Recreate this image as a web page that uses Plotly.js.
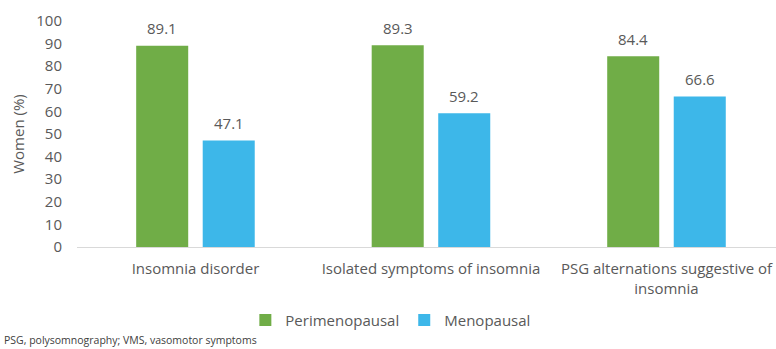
<!DOCTYPE html>
<html>
<head>
<meta charset="utf-8">
<script src="https://cdn.plot.ly/plotly-3.0.1.min.js"></script>
<style>html,body{margin:0;padding:0;background:#fff;}#chart{width:776px;height:349px;}</style>
</head>
<body>
<div id="chart"></div>
<script>
const categories = ["Insomnia disorder", "Isolated symptoms of insomnia", "PSG alternations suggestive of<br>insomnia"];
const seriesNames = ["Perimenopausal", "Menopausal"];
const perimenopausal = [89.1, 89.3, 84.4];
const menopausal = [47.1, 59.2, 66.6];
const yTicks = [0, 10, 20, 30, 40, 50, 60, 70, 80, 90, 100];
const footnote = "PSG, polysomnography; VMS, vasomotor symptoms";

const FONT = "Open Sans, sans-serif";
const TXT = "#595959";
const colors = ["#70AD47", "#3DB7E9"];

const traces = [
  {type: "bar", name: seriesNames[0], x: categories, y: perimenopausal, marker: {color: colors[0]}, hoverinfo: "none"},
  {type: "bar", name: seriesNames[1], x: categories, y: menopausal, marker: {color: colors[1]}, hoverinfo: "none"}
];

const annotations = [];
[perimenopausal, menopausal].forEach((vals, si) => {
  vals.forEach((v, i) => {
    annotations.push({
      x: categories[i], y: v, xref: "x", yref: "y",
      text: v.toFixed(1), showarrow: false,
      xshift: si === 0 ? -33.3 : 33.3, yshift: 17.5, yanchor: "middle",
      font: {family: FONT, size: 15, color: TXT}
    });
  });
});
annotations.push({
  xref: "paper", yref: "paper", x: -0.108, y: -0.413, xanchor: "left", yanchor: "middle",
  text: footnote, showarrow: false, font: {family: FONT, size: 10.5, color: "#404040"}
});

const layout = {
  width: 776, height: 349,
  margin: {l: 77, r: 0, t: 20.5, b: 102.3},
  paper_bgcolor: "#fff", plot_bgcolor: "#fff",
  font: {family: FONT, color: TXT, size: 15},
  barmode: "group", bargap: 0.435, bargroupgap: 0.218,
  xaxis: {
    range: [-0.503, 2.465], showgrid: false, zeroline: false,
    showline: true, linecolor: "#d9d9d9", linewidth: 1,
    ticks: "outside", ticklen: 8, tickcolor: "rgba(0,0,0,0)",
    tickfont: {family: FONT, size: 15, color: TXT}, fixedrange: true
  },
  yaxis: {
    range: [0, 100], tickvals: yTicks, showgrid: false, zeroline: false, showline: false,
    ticks: "outside", ticklen: 11, tickcolor: "rgba(0,0,0,0)",
    tickfont: {family: FONT, size: 15, color: TXT},
    title: {text: "Women (%)", font: {family: FONT, size: 15, color: TXT}, standoff: 8},
    fixedrange: true
  },
  showlegend: true,
  legend: {
    orientation: "h", x: 0.449, xanchor: "center", y: -0.324, yanchor: "middle",
    font: {family: FONT, size: 15, color: TXT}, itemwidth: 30, traceorder: "normal"
  },
  annotations: annotations
};

Plotly.newPlot("chart", traces, layout, {displayModeBar: false, staticPlot: true});
</script>
</body>
</html>
